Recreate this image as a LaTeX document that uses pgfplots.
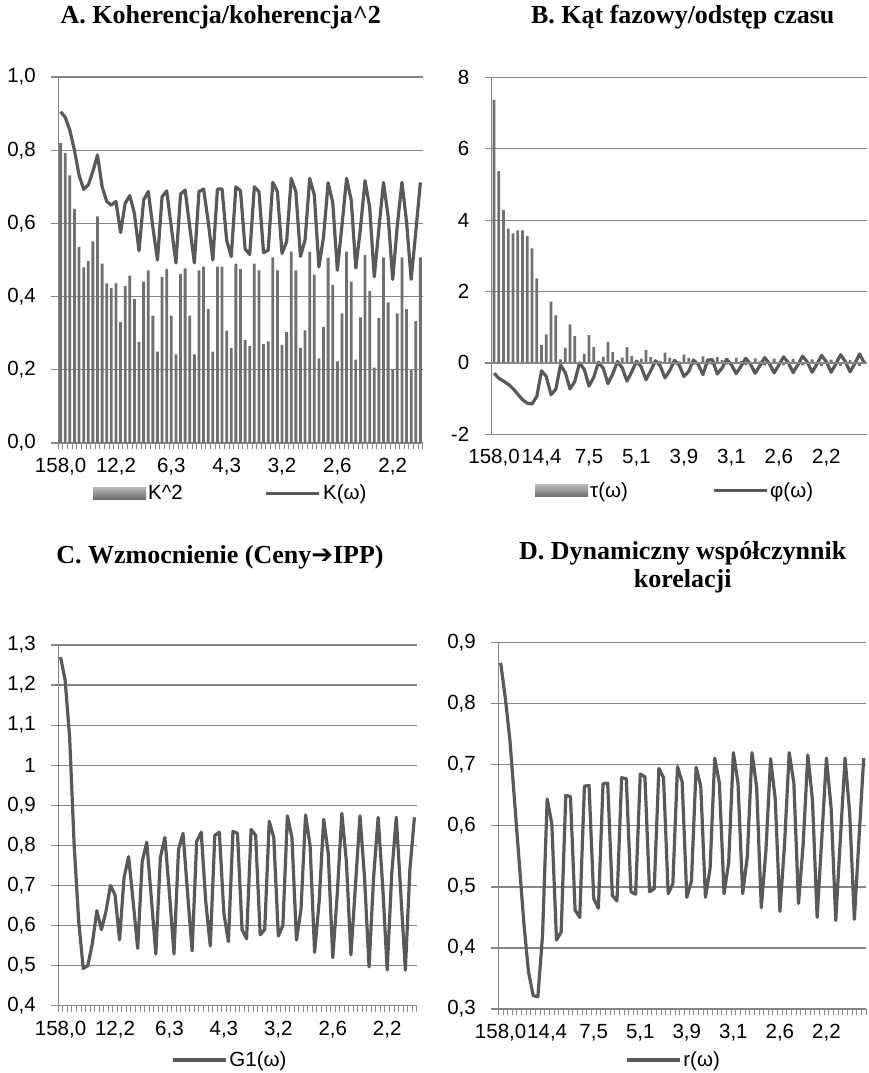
\documentclass[border=0pt]{standalone}
\usepackage{fontspec}
\setmainfont{Liberation Serif}
\newfontfamily\arialfont{Liberation Sans}
\newfontfamily\dejavufont{DejaVu Sans}
\usepackage{pgfplots}
\pgfplotsset{compat=1.18}
\usepackage{pgfplotstable}

\definecolor{gridgray}{RGB}{134,134,134}
\definecolor{linegray}{RGB}{89,89,89}
\definecolor{bargray}{RGB}{112,112,112}

\pgfplotstableread{
k Ksq K
1 0.819 0.905
2 0.792 0.890
3 0.731 0.855
4 0.640 0.800
5 0.536 0.732
6 0.480 0.693
7 0.497 0.705
8 0.551 0.742
9 0.619 0.787
10 0.490 0.700
11 0.436 0.660
12 0.423 0.650
13 0.436 0.660
14 0.331 0.575
15 0.429 0.655
16 0.457 0.676
17 0.393 0.627
18 0.276 0.525
19 0.441 0.664
20 0.472 0.687
21 0.348 0.590
22 0.250 0.500
23 0.453 0.673
24 0.475 0.689
25 0.348 0.590
26 0.242 0.492
27 0.462 0.680
28 0.477 0.691
29 0.348 0.590
30 0.242 0.492
31 0.472 0.687
32 0.482 0.694
33 0.366 0.605
34 0.250 0.500
35 0.482 0.694
36 0.482 0.694
37 0.307 0.554
38 0.259 0.509
39 0.490 0.700
40 0.475 0.689
41 0.281 0.530
42 0.265 0.515
43 0.490 0.700
44 0.472 0.687
45 0.270 0.520
46 0.278 0.527
47 0.507 0.712
48 0.472 0.687
49 0.268 0.518
50 0.303 0.550
51 0.523 0.723
52 0.472 0.687
53 0.260 0.510
54 0.308 0.555
55 0.523 0.723
56 0.460 0.678
57 0.231 0.481
58 0.317 0.563
59 0.506 0.711
60 0.432 0.657
61 0.223 0.472
62 0.354 0.595
63 0.523 0.723
64 0.441 0.664
65 0.228 0.478
66 0.343 0.586
67 0.514 0.717
68 0.415 0.644
69 0.206 0.454
70 0.342 0.585
71 0.507 0.712
72 0.384 0.620
73 0.200 0.447
74 0.354 0.595
75 0.507 0.712
76 0.366 0.605
77 0.200 0.447
78 0.333 0.577
79 0.507 0.712
}\dataA

\pgfplotstableread{
k tau phi
1 7.37 -0.29
2 5.37 -0.43
3 4.28 -0.51
4 3.76 -0.60
5 3.63 -0.72
6 3.71 -0.88
7 3.71 -1.03
8 3.55 -1.13
9 3.21 -1.15
10 2.37 -0.94
11 0.50 -0.22
12 0.80 -0.38
13 1.72 -0.89
14 1.33 -0.74
15 0.10 -0.06
16 0.42 -0.27
17 1.08 -0.73
18 0.75 -0.52
19 0.03 0.00
20 0.25 -0.18
21 0.78 -0.65
22 0.44 -0.40
23 -0.02 0.02
24 0.17 -0.15
25 0.58 -0.58
26 0.30 -0.31
27 -0.04 0.04
28 0.15 -0.14
29 0.44 -0.51
30 0.20 -0.25
31 -0.04 0.05
32 0.12 -0.11
33 0.36 -0.47
34 0.16 -0.22
35 -0.04 0.06
36 0.06 -0.08
37 0.29 -0.42
38 0.15 -0.22
39 -0.04 0.07
40 0.04 -0.06
41 0.23 -0.38
42 0.14 -0.24
43 -0.05 0.08
44 0.02 -0.04
45 0.18 -0.33
46 -0.04 0.08
47 -0.05 0.09
48 0.16 -0.31
49 0.08 -0.15
50 -0.05 0.10
51 0.02 -0.05
52 0.15 -0.30
53 0.05 -0.10
54 -0.06 0.13
55 0.01 -0.03
56 0.13 -0.29
57 0.04 -0.08
58 -0.07 0.15
59 0.01 -0.02
60 0.12 -0.28
61 0.03 -0.06
62 -0.07 0.17
63 0.00 0.00
64 0.11 -0.27
65 0.02 -0.05
66 -0.07 0.19
67 -0.01 0.02
68 0.10 -0.26
69 0.02 -0.04
70 -0.08 0.21
71 -0.01 0.03
72 0.09 -0.26
73 0.01 -0.03
74 -0.08 0.23
75 -0.01 0.04
76 0.08 -0.25
77 0.01 -0.02
78 -0.08 0.25
79 0.00 0.00
}\dataB

\pgfplotstableread{
k G
1 1.270
2 1.213
3 1.070
4 0.800
5 0.610
6 0.493
7 0.500
8 0.555
9 0.637
10 0.590
11 0.635
12 0.700
13 0.677
14 0.564
15 0.720
16 0.772
17 0.660
18 0.543
19 0.760
20 0.808
21 0.670
22 0.529
23 0.770
24 0.820
25 0.680
26 0.529
27 0.790
28 0.830
29 0.680
30 0.537
31 0.810
32 0.833
33 0.660
34 0.549
35 0.825
36 0.833
37 0.630
38 0.560
39 0.835
40 0.830
41 0.590
42 0.567
43 0.840
44 0.825
45 0.577
46 0.590
47 0.860
48 0.820
49 0.574
50 0.600
51 0.874
52 0.820
53 0.564
54 0.640
55 0.876
56 0.800
57 0.533
58 0.660
59 0.865
60 0.780
61 0.520
62 0.680
63 0.880
64 0.760
65 0.527
66 0.700
67 0.874
68 0.720
69 0.497
70 0.720
71 0.870
72 0.700
73 0.489
74 0.730
75 0.870
76 0.680
77 0.489
78 0.740
79 0.870
}\dataC

\pgfplotstableread{
k r
1 0.867
2 0.810
3 0.740
4 0.640
5 0.540
6 0.440
7 0.360
8 0.322
9 0.320
10 0.420
11 0.644
12 0.603
13 0.413
14 0.426
15 0.650
16 0.648
17 0.462
18 0.450
19 0.665
20 0.666
21 0.481
22 0.465
23 0.669
24 0.670
25 0.486
26 0.477
27 0.679
28 0.677
29 0.492
30 0.488
31 0.685
32 0.680
33 0.492
34 0.497
35 0.694
36 0.679
37 0.489
38 0.505
39 0.697
40 0.672
41 0.483
42 0.510
43 0.696
44 0.665
45 0.483
46 0.530
47 0.711
48 0.670
49 0.489
50 0.540
51 0.720
52 0.670
53 0.489
54 0.550
55 0.720
56 0.664
57 0.466
58 0.560
59 0.710
60 0.644
61 0.460
62 0.570
63 0.720
64 0.670
65 0.473
66 0.570
67 0.716
68 0.642
69 0.450
70 0.580
71 0.711
72 0.630
73 0.445
74 0.580
75 0.711
76 0.620
77 0.447
78 0.580
79 0.711
}\dataD

\pgfplotsset{
  excel/.style={
    scale only axis,
    clip=false,
    axis lines*=left,
    axis line style={draw=gridgray, line width=1.2pt},
    ymajorgrids,
    grid style={draw=gridgray, line width=1.2pt},
    tick align=outside,
    major tick length=7pt,
    minor tick length=6pt,
    every major x tick/.append style={draw=none},
    every major y tick/.append style={draw=gridgray, line width=1.2pt},
    every minor x tick/.append style={draw=gridgray, line width=0.9pt},
    minor xtick={0.5,1.5,...,79.5},
    xmin=0.5, xmax=79.5,
    ticklabel style={font=\arialfont\fontsize{20.5}{23}\selectfont, text=black},
    xticklabel style={yshift=-4.5pt},
    yticklabel style={xshift=-12pt},
    legend style={draw=none, fill=none, inner sep=0pt,
      font=\arialfont\fontsize{20.5}{23}\selectfont, nodes={inner sep=2pt}},
    legend columns=2,
  },
  kline/.style={draw=linegray, line width=3.2pt, line join=round, mark=none,
    legend image code/.code={\draw[draw=linegray, line width=3.2pt] (0pt,0pt) -- (53pt,0pt);}},
  kbar/.style={ybar, bar width=2.8pt, fill=bargray, draw=none, bar shift=0pt,
    legend image code/.code={\shade[top color=gray!55, middle color=white, bottom color=gray!85!black] (0pt,-6pt) rectangle (53pt,6pt);}},
  labsAC/.style={xtick={1,13,25,37,49,61,73}, xticklabels={{158,0},{12,2},{6,3},{4,3},{3,2},{2,6},{2,2}}},
  labsBD/.style={xtick={1,11,21,31,41,51,61,71}, xticklabels={{158,0},{14,4},{7,5},{5,1},{3,9},{3,1},{2,6},{2,2}}},
}

\begin{document}
\begin{tikzpicture}
\useasboundingbox (0,0) rectangle (868pt,-1073pt);

% ---------- A ----------
\begin{axis}[excel, labsAC,
  at={(58.3pt,-443pt)}, anchor=south west,
  width=364.4pt, height=366pt,
  ymin=0, ymax=1,
  ytick={0,0.2,0.4,0.6,0.8,1.0},
  yticklabels={{0,0},{0,2},{0,4},{0,6},{0,8},{1,0}},
  legend style={at={(axis description cs:0.0952,-0.137)}, anchor=west,
    /tikz/every even column/.append style={column sep=80pt}},
]
\addplot[kbar] table[x=k, y=Ksq] {\dataA};
\addlegendentry{K\textasciicircum 2}
\addplot[kline] table[x=k, y=K] {\dataA};
\addlegendentry{K(ω)}
\end{axis}

% ---------- B ----------
\begin{axis}[excel, labsBD,
  at={(491.7pt,-434.3pt)}, anchor=south west,
  width=375pt, height=357pt,
  every minor x tick/.append style={draw=none},
  ymin=-2, ymax=8,
  ytick={-2,0,2,4,6,8},
  yticklabels={-2,0,2,4,6,8},
  legend style={at={(axis description cs:0.1155,-0.158)}, anchor=west,
    /tikz/every even column/.append style={column sep=82pt}},
]
\addplot[kbar] table[x=k, y=tau] {\dataB};
\addlegendentry{τ(ω)}
\addplot[kline] table[x=k, y=phi] {\dataB};
\addlegendentry{φ(ω)}
\end{axis}
% zero line of panel B with its category tick marks
\begin{axis}[
  scale only axis,
  at={(491.7pt,-434.3pt)}, anchor=south west,
  width=375pt, height=357pt,
  xmin=0.5, xmax=79.5, ymin=-2, ymax=8,
  axis x line*=middle, axis y line=none,
  axis line style={draw=gridgray, line width=1.2pt},
  xtick=\empty, ytick=\empty,
  minor xtick={0.5,1.5,...,79.5},
  tick align=outside, minor tick length=6pt,
  every minor x tick/.append style={draw=gridgray, line width=0.9pt},
]
\end{axis}

% ---------- C ----------
\begin{axis}[excel, labsAC,
  at={(58.3pt,-1005.7pt)}, anchor=south west,
  width=358.4pt, height=360.7pt,
  ymin=0.4, ymax=1.3,
  ytick={0.4,0.5,0.6,0.7,0.8,0.9,1.0,1.1,1.2,1.3},
  yticklabels={{0,4},{0,5},{0,6},{0,7},{0,8},{0,9},1,{1,1},{1,2},{1,3}},
  legend style={at={(axis description cs:0.3145,-0.1505)}, anchor=west},
]
\addplot[kline] table[x=k, y=G] {\dataC};
\addlegendentry{G1(ω)}
\end{axis}

% ---------- D ----------
\begin{axis}[excel, labsBD,
  at={(498.3pt,-1009pt)}, anchor=south west,
  width=367.7pt, height=366.3pt,
  ymin=0.3, ymax=0.9,
  ytick={0.3,0.4,0.5,0.6,0.7,0.8,0.9},
  yticklabels={{0,3},{0,4},{0,5},{0,6},{0,7},{0,8},{0,9}},
  legend style={at={(axis description cs:0.3446,-0.139)}, anchor=west},
]
\addplot[kline] table[x=k, y=r] {\dataD};
\addlegendentry{r(ω)}
\end{axis}

% ---------- titles ----------
\begin{scope}[every node/.style={font=\bfseries\fontsize{26}{28}\selectfont, inner sep=0pt}]
\node at (220.8pt,-17pt) {A. Koherencja/koherencja\textasciicircum 2};
\node at (682.7pt,-17pt) {B. Kąt fazowy/odstęp czasu};
\node at (220pt,-557pt) {C. Wzmocnienie (Ceny{\dejavufont\bfseries ➔}IPP)};
\node at (682.7pt,-553pt) {D. Dynamiczny współczynnik};
\node at (682.7pt,-581pt) {korelacji};
\end{scope}
\end{tikzpicture}
\end{document}
